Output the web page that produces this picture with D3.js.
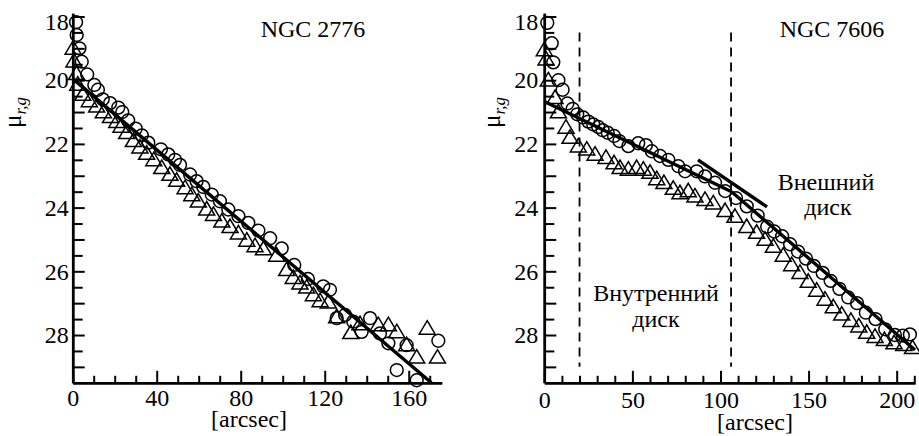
<!DOCTYPE html>
<html>
<head>
<meta charset="utf-8">
<script src="https://cdn.jsdelivr.net/npm/d3@7"></script>
<style>
  body { margin: 0; background: #fff; }
  text, tspan { font-family: "Liberation Serif" !important; }
</style>
</head>
<body>
<script>
//// Constants ////
const WIDTH = 919
const HEIGHT = 436
const FONT = '"Liberation Serif"'

/// Data: [radius arcsec, mu] ///
const ngc2776Circles = [
  [1.6, 18.18], [1.9, 18.58], [3.2, 19.0], [4.3, 19.42], [6.9, 19.82], [10.3, 20.15],
  [12.0, 20.3], [14.3, 20.6], [17.8, 20.72], [21.7, 20.86], [23.6, 21.0], [26.4, 21.26],
  [30.0, 21.52], [32.9, 21.73], [36.0, 21.96], [42.0, 22.17], [45.5, 22.33], [48.7, 22.5],
  [51.1, 22.66], [55.9, 22.96], [59.0, 23.17], [62.2, 23.35], [66.2, 23.59], [70.1, 23.8],
  [74.1, 24.06], [78.9, 24.27], [83.6, 24.48], [88.4, 24.72], [94.0, 24.96], [99.5, 25.28],
  [105.5, 25.8], [112.0, 26.24], [119.3, 26.47], [122.5, 26.58], [125.7, 27.47], [129.7, 27.37],
  [133.6, 27.58], [137.6, 27.9], [141.6, 27.47], [146.3, 27.95], [150.3, 28.26], [154.3, 29.1],
  [159.0, 28.32], [163.8, 29.42], [174.1, 28.18]
]
const ngc2776Triangles = [
  [0.2, 19.0], [0.6, 19.4], [1.8, 19.8], [2.4, 20.13], [4.8, 20.45], [7.9, 20.65],
  [11.4, 20.82], [14.6, 21.0], [18.0, 21.15], [21.0, 21.3], [23.0, 21.45], [25.7, 21.65],
  [28.9, 21.9], [32.0, 22.1], [35.2, 22.3], [38.6, 22.5], [42.4, 22.75], [46.3, 22.96],
  [49.5, 23.15], [53.5, 23.38], [56.7, 23.6], [59.8, 23.8], [63.8, 24.05], [67.0, 24.22],
  [71.0, 24.43], [74.9, 24.6], [78.9, 24.8], [82.9, 25.03], [86.8, 25.2], [90.8, 25.3],
  [97.1, 25.5], [101.9, 25.95], [105.0, 26.2], [108.2, 26.37], [111.4, 26.5], [114.6, 26.74],
  [117.8, 26.93], [121.7, 26.97], [125.7, 27.43], [132.4, 27.93], [136.8, 27.65], [145.5, 27.68],
  [150.3, 27.68], [154.3, 27.9], [159.0, 28.31], [163.8, 28.7], [168.8, 27.79], [173.7, 28.7]
]
const ngc2776Fit = [[0, 19.95], [170.8, 29.5]]

const ngc7606Circles = [
  [1.7, 18.2], [4.2, 18.84], [5.1, 19.44], [8.0, 20.0], [10.4, 20.3], [13.1, 20.73],
  [16.1, 20.9], [18.7, 21.07], [22.1, 21.17], [25.0, 21.3], [27.8, 21.39], [30.6, 21.47],
  [33.1, 21.57], [36.0, 21.65], [39.6, 21.75], [42.6, 21.91], [47.7, 22.07], [53.3, 21.98],
  [57.7, 22.04], [61.0, 22.23], [65.7, 22.38], [70.4, 22.5], [76.1, 22.7], [79.9, 22.86],
  [86.5, 22.86], [91.2, 23.02], [96.9, 23.22], [102.6, 23.48], [108.8, 23.7], [114.9, 23.96],
  [121.1, 24.25], [126.5, 24.6], [130.5, 24.75], [135.0, 24.9], [139.5, 25.15], [144.0, 25.38],
  [148.5, 25.6], [153.0, 25.83], [158.0, 26.05], [162.5, 26.3], [167.5, 26.55], [172.5, 26.82],
  [177.5, 27.0], [182.5, 27.3], [188.0, 27.5], [193.5, 27.82], [199.0, 28.0], [203.5, 28.02],
  [207.5, 27.98]
]
const ngc7606Triangles = [
  [0, 19.05], [1.0, 19.34], [2.3, 20.0], [6.1, 20.55], [8.0, 21.0], [12.3, 21.48],
  [14.6, 21.8], [19.3, 22.07], [24.1, 22.17], [28.8, 22.33], [35.0, 22.43], [39.6, 22.6],
  [43.0, 22.75], [47.7, 22.8], [52.4, 22.75], [56.2, 22.8], [60.0, 22.9], [63.8, 23.1],
  [67.9, 23.22], [73.2, 23.4], [77.0, 23.54], [81.7, 23.48], [85.5, 23.64], [91.2, 23.75],
  [95.9, 23.86], [102.6, 24.1], [108.2, 24.28], [114.9, 24.6], [120.5, 24.78], [125.3, 25.0],
  [130.0, 25.22], [135.6, 25.5], [140.4, 25.8], [145.1, 26.04], [149.8, 26.32], [154.6, 26.6],
  [159.3, 26.88], [164.0, 27.12], [168.8, 27.35], [174.0, 27.55], [178.5, 27.72], [183.0, 27.92],
  [187.7, 28.05], [193.0, 28.15], [198.5, 28.25], [204.0, 28.3], [209.0, 28.4]
]
const ngc7606InnerFit = [[0, 20.67], [106.3, 23.5]]
const ngc7606OuterFit = [[106.3, 23.5], [210.4, 28.47]]
const ngc7606Tangent = [[87.2, 22.5], [126.4, 23.98]]
const ngc7606Bounds = [20, 106]

/// Ticks ///
const yTickLabels = [18, 20, 22, 24, 26, 28]
const leftXTickLabels = [0, 40, 80, 120, 160]
const rightXTickLabels = [0, 50, 100, 150, 200]


const svg = d3.select("body")
  .append("svg")
  .attr("width", WIDTH)
  .attr("height", HEIGHT)
  .attr("font-family", "Liberation Serif")

const triPath = "M0,-7.7L8,5.8L-8,5.8Z"

function drawPanel(p) {
  const x = d3.scaleLinear().domain(p.xDomain).range(p.xRange)
  const y = d3.scaleLinear().domain([17.9, 29.5]).range([13.3, 382.8])
  const line = d3.line().x(d => x(d[0])).y(d => y(d[1]))
  const g = svg.append("g")

  // minor ticks (no labels)
  const xMinor = d3.axisBottom(x)
    .tickValues(d3.range(0, p.xDomain[1], 10).filter(v => !p.xTicks.includes(v)))
    .tickSize(-7).tickSizeOuter(0).tickFormat("")
  g.append("g").attr("transform", `translate(0,${y(29.5)})`).call(xMinor)

  const xMajor = d3.axisBottom(x)
    .tickValues(p.xTicks).tickSize(-12).tickSizeOuter(0).tickPadding(p.xPad)
  g.append("g").attr("transform", `translate(0,${y(29.5)})`).call(xMajor)

  const yMinor = d3.axisLeft(y)
    .tickValues(d3.range(18.5, 29.5, 1))
    .tickSize(-10).tickSizeOuter(0).tickFormat("")
  g.append("g").attr("transform", `translate(${x(0)},0)`).call(yMinor)

  const yMajor = d3.axisLeft(y)
    .tickValues(d3.range(18, 29.5, 1))
    .tickSize(-12).tickSizeOuter(0).tickPadding(p.yPad)
    .tickFormat(d => yTickLabels.includes(d) ? d : "")
  const ya = g.append("g").attr("transform", `translate(${x(0)},0)`).call(yMajor)
  ya.selectAll("text").filter(d => d === 18).attr("dy", "0.55em")

  g.selectAll("g").attr("font-family", "Liberation Serif").attr("font-size", 24)
  g.selectAll(".domain").attr("stroke", "#000").attr("stroke-width", 2.5)
  g.selectAll(".tick line").attr("stroke", "#000").attr("stroke-width", 2)
  g.selectAll(".tick text")
    .style("font-family", FONT).style("font-size", "24px").attr("fill", "#000")

  // dashed boundaries
  if (p.bounds) {
    g.selectAll(".bound").data(p.bounds).join("line")
      .attr("x1", d => x(d)).attr("x2", d => x(d))
      .attr("y1", y(18.5)).attr("y2", y(29))
      .attr("stroke", "#000").attr("stroke-width", 1.8)
      .attr("stroke-dasharray", "9,6")
  }

  // markers
  g.append("g").selectAll("path").data(p.triangles).join("path")
    .attr("d", triPath)
    .attr("transform", d => `translate(${x(d[0])},${y(d[1])})`)
    .attr("fill", "none").attr("stroke", "#000").attr("stroke-width", 1.5)
  g.append("g").selectAll("circle").data(p.circles).join("circle")
    .attr("cx", d => x(d[0])).attr("cy", d => y(d[1])).attr("r", 6.4)
    .attr("fill", "none").attr("stroke", "#000").attr("stroke-width", 1.5)

  // fits
  p.fits.forEach(f => {
    g.append("path").attr("d", line(f))
      .attr("fill", "none").attr("stroke", "#000").attr("stroke-width", 3.4)
  })

  // titles / axis names
  g.append("text").attr("x", p.titleX).attr("y", 37)
    .attr("text-anchor", "middle")
    .style("font-family", FONT).style("font-size", "24px")
    .text(p.title)
  g.append("text").attr("x", p.xLabelX).attr("y", p.xLabelY)
    .attr("text-anchor", "middle")
    .style("font-family", FONT).style("font-size", "24px")
    .text("[arcsec]")
  const yl = g.append("text")
    .attr("transform", `translate(${p.yLabelX},128) rotate(-90)`)
    .style("font-family", FONT).style("font-size", "25px")
  yl.append("tspan").text("μ")
  yl.append("tspan").style("font-size", "17px").style("font-style", "italic")
    .attr("dy", 5).text("r,g")

  return g
}

drawPanel({
  xDomain: [0, 175.7], xRange: [72.7, 441.7], xTicks: leftXTickLabels,
  xPad: 6, yPad: 4,
  circles: ngc2776Circles, triangles: ngc2776Triangles, fits: [ngc2776Fit],
  title: "NGC 2776", titleX: 313, xLabelX: 249, xLabelY: 427, yLabelX: 21
})

const right = drawPanel({
  xDomain: [0, 210.4], xRange: [544.3, 915], xTicks: rightXTickLabels,
  xPad: 8, yPad: 6, bounds: ngc7606Bounds,
  circles: ngc7606Circles, triangles: ngc7606Triangles,
  fits: [ngc7606InnerFit, ngc7606OuterFit, ngc7606Tangent],
  title: "NGC 7606", titleX: 832, xLabelX: 755, xLabelY: 430, yLabelX: 500
})

const notes = [
  ["Внешний", 826, 190], ["диск", 828, 215],
  ["Внутренний", 656, 301], ["диск", 656, 327]
]
right.selectAll(".note").data(notes).join("text")
  .attr("x", d => d[1]).attr("y", d => d[2])
  .attr("text-anchor", "middle")
  .style("font-family", FONT).style("font-size", "24px")
  .text(d => d[0])
</script>
</body>
</html>
